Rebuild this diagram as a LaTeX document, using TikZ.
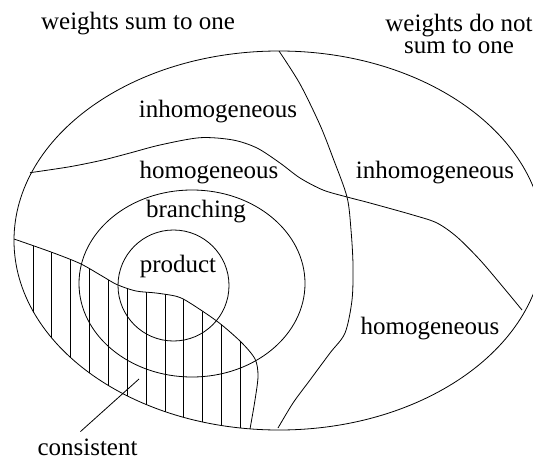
\documentclass[tikz,border=0pt]{standalone}
\usepackage{fontspec}
\setmainfont{Liberation Serif}
\usetikzlibrary{positioning}

\begin{document}
\begin{tikzpicture}[x=0.5pt, y=-0.5pt,
  area/.style={font=\fontsize{12.5}{11.2}\selectfont, align=center}]
  \useasboundingbox (0,0) rectangle (533,459);
  \clip (0,0) rectangle (533,459);
  \coordinate (O) at (279,240.5);

  % hatched part
  \begin{scope}
    \clip (O) ellipse [x radius=265, y radius=189.5];
    \draw[clip] plot[smooth] coordinates {(14,239) (51,252) (80,263.5) (102,276) (117,284.6) (136,291) (156,293) (177,296.5) (190,303) (218,322) (241,342) (255,359) (258,376) (255,400) (250,429)}
      -- (250,480) -- (-20,480) -- (-20,239) -- cycle;
    \foreach \i in {0,...,11}
      \draw ({33+18.85*\i},220) -- ++(0,240);
  \end{scope}

  \draw (O) ellipse [x radius=265, y radius=189.5];
  \draw (192,283.5) ellipse [x radius=113, y radius=93.5];
  \draw (173.5,285.5) circle [radius=55.5];
  \draw plot[smooth] coordinates {(279,51) (300,84) (320,125) (333,158) (347,197) (351,230) (353,265) (352,300) (345,333) (330,353) (310,380) (293,403) (278,428)};
  \draw plot[smooth] coordinates {(30,172.7) (70,166.7) (103,160) (130,153) (160,145) (200,137.7) (233,140) (257,148) (280,163) (300,178) (323,190) (347,197) (370,203) (413,215) (437,223) (457,237) (480,260) (503,287) (522,310)};

  \node[area] (sumone) at (138,24) {weights sum to one};
  \node[area] (notone) at (459,34) {weights do not\\sum to one};
  \node[area] (inhomleft) at (218,112) {inhomogeneous};
  \node[area] (homleft) at (209,173) {homogeneous};
  \node[area] (inhomright) at (435,173) {inhomogeneous};
  \node[area] (branching) at (196,212) {branching};
  \node[area] (product) at (178,266) {product};
  \node[area] (homright) at (430,329) {homogeneous};
  \node[area] (consistent) at (87.5,447) {consistent};

  \coordinate (hatch) at (139,379);
  \draw ([xshift=-3.5pt]consistent.north) -- (hatch);
\end{tikzpicture}
\end{document}
